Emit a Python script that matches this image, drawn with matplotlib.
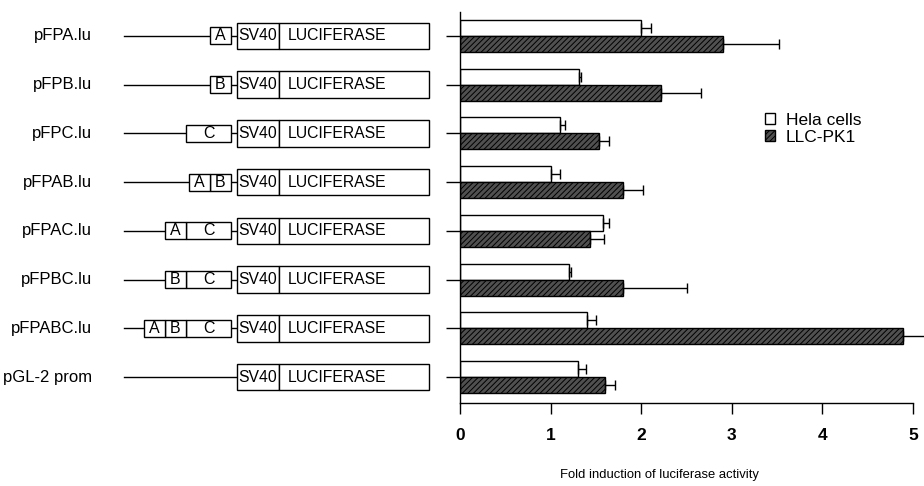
import numpy as np
import matplotlib
matplotlib.use('Agg')
import matplotlib.pyplot as plt
from matplotlib.patches import Rectangle, Patch

plt.rcParams['font.family'] = ['Liberation Sans', 'DejaVu Sans']
plt.rcParams['hatch.linewidth'] = 0.7

# data
constructs = ['pFPA.lu', 'pFPB.lu', 'pFPC.lu', 'pFPAB.lu', 'pFPAC.lu',
              'pFPBC.lu', 'pFPABC.lu', 'pGL-2 prom']
elements = [['A'], ['B'], ['C'], ['A', 'B'], ['A', 'C'], ['B', 'C'],
            ['A', 'B', 'C'], []]
hela = [2.00, 1.31, 1.10, 1.00, 1.58, 1.20, 1.40, 1.30]
hela_err = [0.11, 0.03, 0.06, 0.10, 0.07, 0.03, 0.10, 0.09]
llc = [2.90, 2.22, 1.53, 1.80, 1.44, 1.80, 4.89, 1.60]
llc_err = [0.62, 0.44, 0.12, 0.22, 0.15, 0.71, 0.30, 0.11]
xticks = [0, 1, 2, 3, 4, 5]
series = ['Hela cells', 'LLC-PK1']
xlabel = 'Fold induction of luciferase activity'

W, H = 924, 486
fig = plt.figure(figsize=(W / 100, H / 100), dpi=100)
bottom, height = 1 - 403 / H, 391 / H

# bar panel
ax = fig.add_axes([460 / W, bottom, 453 / W, height])
rows = np.arange(len(constructs))
n = len(rows)
bh = 0.33
dark = '#505050'
ax.barh(rows - bh / 2, hela, height=bh, color='white', edgecolor='black', lw=1)
ax.barh(rows + bh / 2, llc, height=bh, color=dark, edgecolor='black',
        hatch='//////', lw=1)
ax.errorbar(hela, rows - bh / 2, xerr=[np.zeros(n), hela_err], fmt='none',
            ecolor='black', elinewidth=1, capsize=3.5, capthick=1, clip_on=False)
ax.errorbar(llc, rows + bh / 2, xerr=[np.zeros(n), llc_err], fmt='none',
            ecolor='black', elinewidth=1, capsize=3.5, capthick=1, clip_on=False)
ax.set_xlim(0, 5)
ax.set_ylim(7.53, -0.49)
ax.set_yticks(rows)
ax.set_yticklabels([])
ax.tick_params(axis='y', length=10, width=1, direction='out')
ax.set_xticks(xticks)
ax.set_xticklabels([str(t) for t in xticks], fontweight='bold')
ax.tick_params(axis='x', length=8, width=1, labelsize=12.5, pad=10)
for s in ['top', 'right']:
    ax.spines[s].set_visible(False)
for s in ['left', 'bottom']:
    ax.spines[s].set_linewidth(1)
ax.set_xlabel(xlabel, fontsize=9.4)
ax.xaxis.set_label_coords((660 - 461) / 452, (403 - 469) / 391)

# construct diagrams
axd = fig.add_axes([0, bottom, 460 / W, height])
axd.set_xlim(0, 460)
axd.set_ylim(7.53, -0.49)
axd.axis('off')
widths = {'A': 21, 'B': 21, 'C': 45}
sv40_x, sv40_w, luc_w = 237, 42, 150
for i, name in enumerate(constructs):
    axd.text(92, i, name, ha='right', va='center', fontsize=12)
    axd.plot([124, sv40_x], [i, i], color='black', lw=1)
    x_end = 231
    for el in reversed(elements[i]):
        w = widths[el]
        x0 = x_end - w
        axd.add_patch(Rectangle((x0, i - 0.175), w, 0.35, fc='white',
                                ec='black', lw=1, zorder=3))
        axd.text(x0 + w / 2, i, el, ha='center', va='center', fontsize=11.5,
                 zorder=4)
        x_end = x0
    axd.add_patch(Rectangle((sv40_x, i - 0.27), sv40_w, 0.54, fc='white',
                            ec='black', lw=1, zorder=3))
    axd.add_patch(Rectangle((sv40_x + sv40_w, i - 0.27), luc_w, 0.54,
                            fc='white', ec='black', lw=1, zorder=3))
    axd.text(sv40_x + sv40_w / 2, i, 'SV40', ha='center', va='center',
             fontsize=11.3, zorder=4)
    axd.text(sv40_x + sv40_w + 9, i, 'LUCIFERASE', ha='left', va='center',
             fontsize=11.3, zorder=4)

handles = [Patch(fc='white', ec='black', lw=1),
           Patch(fc=dark, ec='black', hatch='//////', lw=1)]
fig.legend(handles, series, loc='upper left',
           bbox_to_anchor=(765 / W, 1 - 113 / H), frameon=False, fontsize=12.5,
           handlelength=0.6, handleheight=0.6, handletextpad=0.6,
           labelspacing=0.1, borderaxespad=0, borderpad=0)

fig.savefig('out.png', dpi=100)
